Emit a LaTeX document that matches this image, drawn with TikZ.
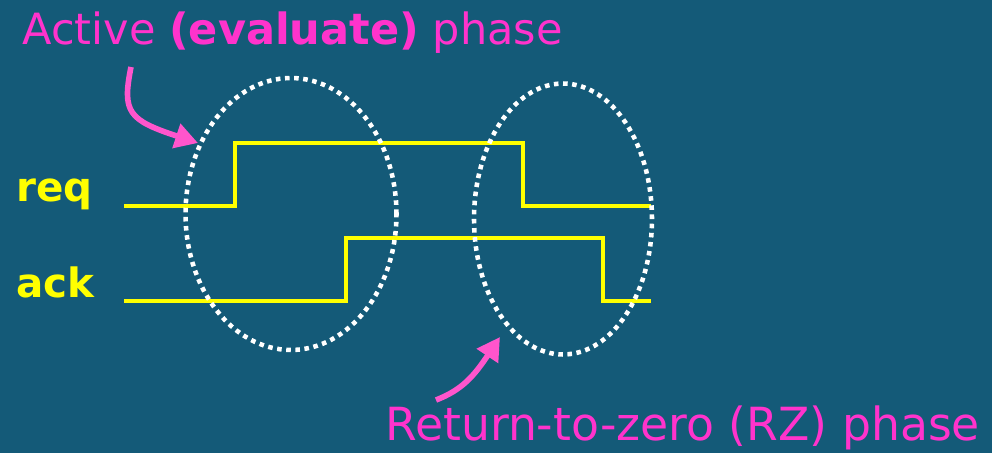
\documentclass[tikz,border=0pt]{standalone}
\usepackage{fontspec}
\setmainfont{DejaVu Sans}
\usetikzlibrary{shapes.geometric, arrows.meta}

\definecolor{slidebg}{HTML}{145A78}
\definecolor{sigyellow}{HTML}{FFFF00}
\definecolor{notepink}{HTML}{FF33CC}
\definecolor{arrowpink}{HTML}{FF55CC}

\tikzset{
  signal/.style={sigyellow, line width=2.7pt},
  phase/.style={ellipse, draw=white, line width=2.6pt, dash pattern=on 2.6pt off 2.6pt, inner sep=0pt},
  signame/.style={anchor=base west, text=sigyellow, inner sep=0pt, font=\bfseries\fontsize{23}{23}\selectfont},
  note/.style={anchor=base west, text=notepink, inner sep=0pt},
  notearrow/.style={arrowpink, line width=3.2pt, -{Triangle[length=13pt,width=14pt]}}
}

\begin{document}
\begin{tikzpicture}[x=0.02cm, y=-0.02cm]
  \fill[slidebg] (0,0) rectangle (992,453);
  \useasboundingbox (0,0) rectangle (992,453);
  % handshake signals
  \draw[signal] (124,206) -- (235,206) -- (235,143) -- (523,143) -- (523,206) -- (651,206);
  \draw[signal] (124,301) -- (346,301) -- (346,238) -- (603,238) -- (603,301) -- (651,301);
  \node[signame] (req) at (16,201) {req};
  \node[signame] (ack) at (16,297) {ack};
  % phases
  \node[phase, minimum width=4.22cm, minimum height=5.44cm] (evalphase) at (291,214) {};
  \node[phase, minimum width=3.56cm, minimum height=5.42cm] (rzphase) at (563,219) {};
  \node[note, font=\fontsize{24.5}{24.5}\selectfont] (active) at (22,45) {Active \textbf{(evaluate)} phase};
  \node[note, font=\fontsize{26}{26}\selectfont] (rz) at (385,440) {Return-to-zero (RZ) phase};
  \coordinate (activetail) at (131,67);
  \coordinate (activetip) at (198,143);
  \coordinate (rztail) at (436,400);
  \coordinate (rztip) at (500,337);
  \draw[notearrow] (activetail) .. controls (122,112) and (128,120) .. (activetip);
  \draw[notearrow] (rztail) .. controls (462,390) and (474,376) .. (rztip);
\end{tikzpicture}
\end{document}
